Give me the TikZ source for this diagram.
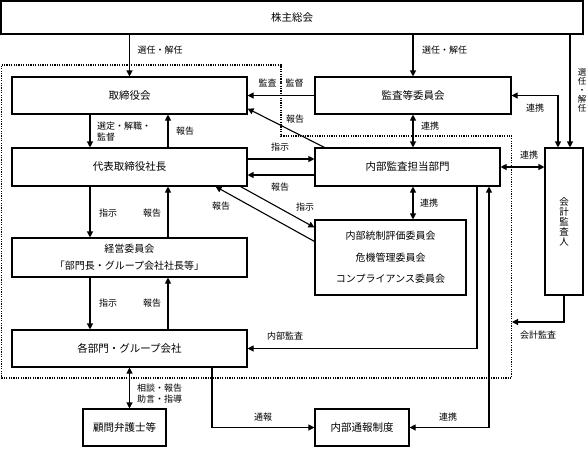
\documentclass[tikz,border=0pt]{standalone}
\usepackage{fontspec}
\setmainfont{Noto Sans CJK JP}
\usetikzlibrary{arrows.meta,calc}
\begin{document}
\begin{tikzpicture}[x=1pt,y=-1pt,
  box/.style={draw, line width=1.1pt, inner sep=0pt, font=\fontsize{10.5}{13}\selectfont, align=center},
  lbl/.style={inner sep=0pt, font=\fontsize{9}{11}\selectfont},
  arr/.style={line width=1.1pt, -{Triangle[length=6pt,width=6pt]}},
  biarr/.style={line width=1.1pt, {Triangle[length=6pt,width=6pt]}-{Triangle[length=6pt,width=6pt]}},
  dotline/.style={line width=1.2pt, dash pattern=on 1.2pt off 1.2pt}]
\useasboundingbox (0,0) rectangle (587,448);
% dotted boundary
\draw[dotline] (1.5,65) -- (281,65) -- (281,136) -- (511.5,136) -- (511.5,378) -- (1.5,378) -- cycle;
% boxes
\node[box, minimum width=582pt, minimum height=33pt] (sh) at (292,17.5) {株主総会};
\node[box, minimum width=235pt, minimum height=37pt] (bod) at (129.5,95.5) {取締役会};
\node[box, minimum width=235pt, minimum height=38pt] (ceo) at (129.5,167) {代表取締役社長};
\node[box, minimum width=235pt, minimum height=39pt, font=\fontsize{10}{17}\selectfont] (mgmt) at (129.5,257.5) {経営委員会\\「部門長・グループ会社社長等」};
\node[box, minimum width=235pt, minimum height=37pt] (dept) at (129.5,348.5) {各部門・グループ会社};
\node[box, minimum width=83pt, minimum height=37pt] (law) at (124.5,427.5) {顧問弁護士等};
\node[box, minimum width=196pt, minimum height=37pt] (ac) at (413,95.5) {監査等委員会};
\node[box, minimum width=185pt, minimum height=38pt] (ia) at (407.5,167) {内部監査担当部門};
\node[box, minimum width=151pt, minimum height=75pt, font=\fontsize{10}{21.5}\selectfont] (ctrl) at (390.5,257.5) {内部統制評価委員会\\危機管理委員会\\コンプライアンス委員会};
\node[box, minimum width=38pt, minimum height=147pt, font=\fontsize{9.5}{10}\selectfont] (ext) at (564,221.5) {会\\計\\監\\査\\人};
\node[box, minimum width=94pt, minimum height=37pt] (wb) at (362,427.5) {内部通報制度};
% helper coordinates
\coordinate (e1) at ([xshift=6pt]ext.north);
\coordinate (e2) at ([xshift=-6pt]ext.north);
\coordinate (dotR) at (512,322);
% connectors
\draw[arr] (sh.south -| bod.north) -- (bod.north);
\draw[arr] (sh.south -| ac.north) -- (ac.north);
\draw[arr] (sh.south -| e1) -- (e1);
\draw[biarr] (ac.east) -| (e2);
\draw[biarr] (ac.south) -- (ac.south |- ia.north);
\draw[arr] (ac.west) -- (ac.west -| bod.east);
\draw[arr] ([xshift=10pt]ia.north west) -- ([yshift=6pt]bod.south east);
\draw[arr] ([yshift=8pt]ceo.east) -- ([yshift=8pt]ia.west);
\draw[arr] ([yshift=-8pt]ia.west) -- ([yshift=-8pt]ceo.east);
\draw[arr] ([xshift=-7pt]ceo.south east) -- ([yshift=-8pt]ctrl.north west);
\draw[arr] ([yshift=-22pt]ctrl.north west) -- ([xshift=-32pt]ceo.south east);
\draw[arr] ([xshift=-39.5pt]bod.south) -- ([xshift=-39.5pt]ceo.north);
\draw[arr] ([xshift=38.5pt]ceo.north) -- ([xshift=38.5pt]bod.south);
\draw[arr] ([xshift=-39.5pt]ceo.south) -- ([xshift=-39.5pt]mgmt.north);
\draw[arr] ([xshift=38.5pt]mgmt.north) -- ([xshift=38.5pt]ceo.south);
\draw[arr] ([xshift=-39.5pt]mgmt.south) -- ([xshift=-39.5pt]dept.north);
\draw[arr] ([xshift=38.5pt]dept.north) -- ([xshift=38.5pt]mgmt.south);
\draw[arr] ([xshift=69.5pt]ia.south) |- (dept.east);
\draw[biarr] (wb.east) -| ([xshift=81.5pt]ia.south);
\draw[arr] ([xshift=82.5pt]dept.south) |- (wb.west);
\draw[biarr] (dept.south) -- (dept.south |- law.north);
\draw[biarr] (ac.south |- ia.south) -- (ac.south |- ctrl.north);
\draw[biarr] (ia.east) -- (ia.east -| ext.west);
\draw[arr] (ext.south) |- (dotR);
% labels
\node[lbl] (l1) at (160,50) {選任・解任};
\node[lbl] (l2) at (444.5,50) {選任・解任};
\node[lbl, align=center, font=\fontsize{8.5}{9}\selectfont] (l3) at (582,90) {選\\任\\・\\解\\任};
\node[lbl] (l4) at (535,108) {連携};
\node[lbl] (l5) at (281,83) {監査・監督};
\node[lbl] (l6) at (295,119) {報告};
\node[lbl] (l7) at (430,126) {連携};
\node[lbl] (l8) at (280,147) {指示};
\node[lbl] (l9) at (280,187) {報告};
\node[lbl] (l10) at (305,207) {指示};
\node[lbl] (l11) at (221,206) {報告};
\node[lbl, align=left, anchor=west, font=\fontsize{9}{11}\selectfont] (l12) at (97,132) {選定・解職・\\監督};
\node[lbl] (l13) at (185,131) {報告};
\node[lbl] (l14) at (108,213) {指示};
\node[lbl] (l15) at (152,213) {報告};
\node[lbl] (l16) at (108,303) {指示};
\node[lbl] (l17) at (152,303) {報告};
\node[lbl] (l18) at (285,336) {内部監査};
\node[lbl, align=left, anchor=west, font=\fontsize{9}{11}\selectfont] (l19) at (137,394) {相談・報告\\助言・指導};
\node[lbl] (l20) at (263,417) {通報};
\node[lbl] (l21) at (448,417) {連携};
\node[lbl] (l22) at (429,203) {連携};
\node[lbl] (l23) at (529,155) {連携};
\node[lbl] (l24) at (538,335) {会計監査};
\end{tikzpicture}
\end{document}
